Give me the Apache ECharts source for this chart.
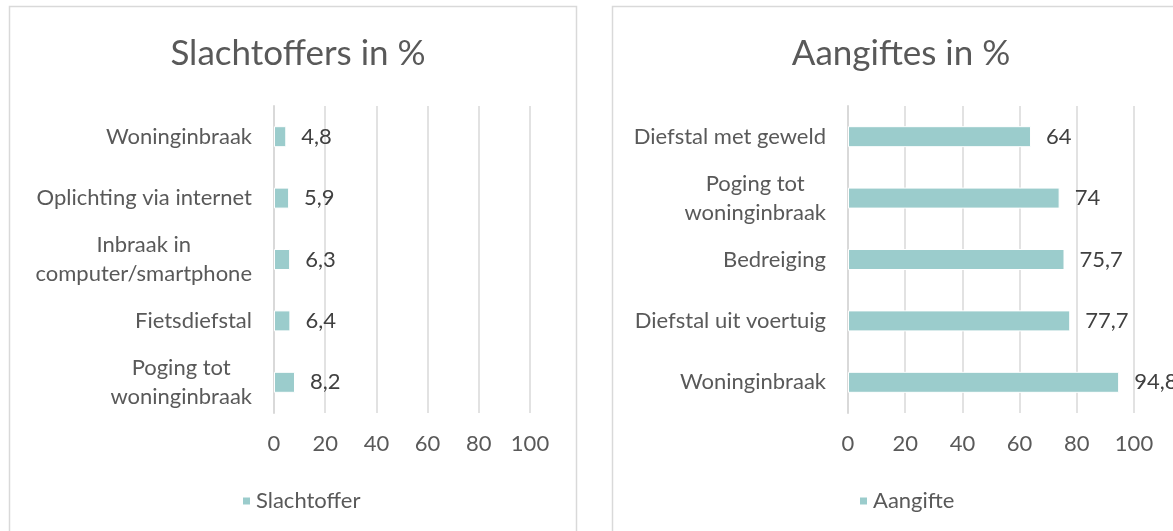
<!DOCTYPE html>
<html lang="nl">
<head>
    <meta charset="UTF-8">
    <title>Slachtoffers en aangiftes</title>
    <script src="https://cdn.jsdelivr.net/npm/echarts@6/dist/echarts.min.js"></script>
    <style>
        html, body { margin: 0; padding: 0; background: #fff; }
    </style>
</head>
<body>
<div id="echarts" style="width: 1173px;height:531px"></div>
<script>
    // data, top to bottom as in the picture
    var slachtofferCategories = ['Woninginbraak', 'Oplichting via internet', 'Inbraak in\ncomputer/smartphone', 'Fietsdiefstal', 'Poging tot\nwoninginbraak'];
    var slachtofferValues = [4.8, 5.9, 6.3, 6.4, 8.2];

    var aangifteCategories = ['Diefstal met geweld', 'Poging tot\nwoninginbraak', 'Bedreiging', 'Diefstal uit voertuig', 'Woninginbraak'];
    var aangifteValues = [64, 74, 75.7, 77.7, 94.8];

    var xTicks = [0, 20, 40, 60, 80, 100];

    var FONT = 'Lato';
    var barColor = '#9bcccc';
    var gridColor = '#d9d9d9';

    var chartDom = document.getElementById('echarts');
    var myChart = echarts.init(chartDom);

    // multi-line category labels are centered line by line
    function catLabel(v) {
        return v.split('\n').map(function (l) { return '{c|' + l + '}'; }).join('\n');
    }

    function valueAxis(idx) {
        return {
            gridIndex: idx,
            type: 'value',
            min: xTicks[0],
            max: xTicks[xTicks.length - 1],
            interval: 20,
            axisLine: {show: false},
            axisTick: {show: false},
            axisLabel: {color: '#595959', fontFamily: FONT, fontSize: 22, margin: 20},
            splitLine: {lineStyle: {color: gridColor, width: 1.5}}
        };
    }

    function catAxis(idx, data) {
        return {
            gridIndex: idx,
            type: 'category',
            inverse: true,
            data: data,
            axisLine: {lineStyle: {color: gridColor, width: 2}},
            axisTick: {length: 7, lineStyle: {color: gridColor, width: 2}},
            axisLabel: {
                formatter: catLabel,
                margin: 22,
                color: '#595959',
                fontFamily: FONT,
                fontSize: 22,
                lineHeight: 29,
                rich: {c: {align: 'center', color: '#595959', fontFamily: FONT, fontSize: 22, lineHeight: 29}}
            }
        };
    }

    function barSeries(name, idx, data) {
        return {
            name: name,
            type: 'bar',
            xAxisIndex: idx,
            yAxisIndex: idx,
            data: data,
            barWidth: 21,
            itemStyle: {color: barColor, borderColor: '#fff', borderWidth: 1},
            label: {
                show: true,
                position: 'right',
                distance: 15,
                color: '#404040',
                fontFamily: FONT,
                fontSize: 22,
                formatter: function (p) { return String(p.value).replace('.', ','); }
            }
        };
    }

    var option = {
        animation: false,
        backgroundColor: '#fff',
        textStyle: {fontFamily: FONT},
        graphic: [
            {type: 'rect', shape: {x: 9.5, y: 6.5, width: 567, height: 540}, style: {fill: 'none', stroke: '#d9d9d9', lineWidth: 1.5}, z: -1},
            {type: 'rect', shape: {x: 612.5, y: 6.5, width: 580, height: 540}, style: {fill: 'none', stroke: '#d9d9d9', lineWidth: 1.5}, z: -1}
        ],
        title: [
            {text: 'Slachtoffers in %', left: 293, top: 31, textAlign: 'center',
                textStyle: {color: '#595959', fontFamily: FONT, fontSize: 35, fontWeight: 'normal'}},
            {text: 'Aangiftes in %', left: 896, top: 31, textAlign: 'center',
                textStyle: {color: '#595959', fontFamily: FONT, fontSize: 35, fontWeight: 'normal'}}
        ],
        legend: [
            {data: ['Slachtoffer'], left: 236, top: 485, itemWidth: 9, itemHeight: 9, icon: 'rect',
                textStyle: {color: '#595959', fontFamily: FONT, fontSize: 22}},
            {data: ['Aangifte'], left: 853, top: 485, itemWidth: 9, itemHeight: 9, icon: 'rect',
                textStyle: {color: '#595959', fontFamily: FONT, fontSize: 22}}
        ],
        grid: [
            {left: 274, top: 106, width: 256, height: 307},
            {left: 848, top: 106, width: 286, height: 307}
        ],
        xAxis: [valueAxis(0), valueAxis(1)],
        yAxis: [catAxis(0, slachtofferCategories), catAxis(1, aangifteCategories)],
        series: [
            barSeries('Slachtoffer', 0, slachtofferValues),
            barSeries('Aangifte', 1, aangifteValues)
        ]
    };

    option && myChart.setOption(option);
</script>
</body>
</html>
